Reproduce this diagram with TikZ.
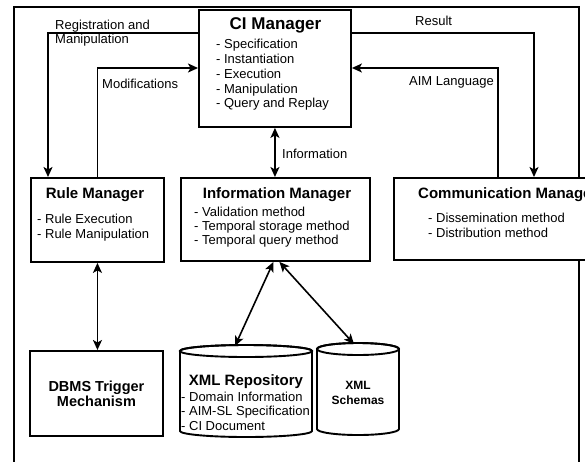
\documentclass[tikz,border=0pt]{standalone}
\usepackage{fontspec}
\setmainfont{Liberation Sans}
\usetikzlibrary{arrows.meta}
\begin{document}
\begin{tikzpicture}[x=1pt,y=-1pt,
  box/.style={draw, line width=1.9pt, fill=white, inner sep=0pt, anchor=north west},
  conn/.style={line width=1.6pt},
  arr/.style={-{Stealth[length=10pt,width=9pt,inset=2.5pt]}},
  darr/.style={{Stealth[length=10pt,width=9pt,inset=2.5pt]}-{Stealth[length=10pt,width=9pt,inset=2.5pt]}},
  txt/.style={inner sep=0pt, font=\fontsize{13}{14.75}\selectfont, align=left, anchor=north west},
  ttl/.style={inner sep=0pt, font=\fontsize{15}{17}\selectfont\bfseries, anchor=base},
  lbl/.style={inner sep=0pt, font=\fontsize{13}{14}\selectfont, align=left, anchor=north west},
  cyl/.style={draw, line width=1.9pt, fill=white}]

\useasboundingbox (0,0) rectangle (585,461);
\fill[white] (0,0) rectangle (585,461);
% outer frame
\draw[line width=2pt] (14,7) rectangle (579,480);

% boxes
\node[box, minimum width=152pt, minimum height=117pt] (ci) at (198,9) {};
\node[box, minimum width=133pt, minimum height=84pt] (rule) at (30,177) {};
\node[box, minimum width=189pt, minimum height=83pt] (info) at (180,177) {};
\node[box, minimum width=230pt, minimum height=82pt] (comm) at (393,177) {};
\node[box, minimum width=133pt, minimum height=85pt, align=center,
      font=\fontsize{14.5}{15}\selectfont\bfseries] (dbms) at (29,350) {DBMS Trigger\\Mechanism};

% cylinders
\path[cyl] (180,351) -- (180,431) arc[start angle=180, end angle=360, x radius=66pt, y radius=6pt]
  -- (312,351) arc[start angle=0, end angle=180, x radius=66pt, y radius=6pt] -- cycle;
\draw[line width=1.9pt] (246,351) ellipse[x radius=66pt, y radius=6pt];
\path[cyl] (317,349) -- (317,429) arc[start angle=180, end angle=360, x radius=41pt, y radius=6pt]
  -- (399,349) arc[start angle=0, end angle=180, x radius=41pt, y radius=6pt] -- cycle;
\draw[line width=1.9pt] (358,349) ellipse[x radius=41pt, y radius=6pt];
\coordinate (repotop) at (235,346);
\coordinate (schtop) at (354,344);

% titles
\node[ttl, font=\fontsize{17}{19}\selectfont\bfseries] (cititle) at (275.5,29.1) {CI Manager};
\node[ttl] (ruletitle) at (95,198.4) {Rule Manager};
\node[ttl] (infotitle) at (277,198.4) {Information Manager};
\node[ttl, anchor=base west] (commtitle) at (418,198.4) {Communication Manager};
\node[ttl] (repotitle) at (246,385.4) {XML Repository};
\node[inner sep=0pt, align=center, font=\fontsize{12}{15}\selectfont\bfseries] (schtext) at (358,392.5) {XML\\Schemas};

% item lists
\node[txt] (ciitems) at (216,39.2) {- Specification\\- Instantiation\\- Execution\\- Manipulation\\- Query and Replay};
\node[txt, font=\fontsize{13}{15}\selectfont] (ruleitems) at (37,214.2) {- Rule Execution\\- Rule Manipulation};
\node[txt, font=\fontsize{13}{14}\selectfont] (infoitems) at (194,207.2) {- Validation method\\- Temporal storage method\\- Temporal query method};
\node[txt, font=\fontsize{13}{15}\selectfont] (commitems) at (428,213.2) {- Dissemination method\\- Distribution method};
\node[txt, font=\fontsize{13}{14.5}\selectfont] (repoitems) at (181,391.8) {- Domain Information\\- AIM-SL Specification\\- CI Document};

% connectors
\draw[conn, arr] ([yshift=-24pt]ci.north west) -| ([xshift=18pt]rule.north west);
\draw[conn, arr] (rule.north) |- ([yshift=-59pt]ci.north west);
\draw[conn, arr] ([yshift=-24pt]ci.north east) -| ([xshift=141pt]comm.north west);
\draw[conn, arr] ([xshift=105pt]comm.north west) |- ([yshift=-59pt]ci.north east);
\draw[conn, darr] (ci.south) -- (ci.south |- info.north);
\draw[conn, darr] (rule.south) -- (rule.south |- dbms.north);
\draw[conn, darr] ([xshift=-2pt]info.south) -- (repotop);
\draw[conn, darr] ([xshift=4pt]info.south) -- (schtop);

% connector labels
\node[lbl] (reglbl) at (55,20.2) {Registration and\\Manipulation};
\node[lbl] (modlbl) at (102,79.2) {Modifications};
\node[lbl] (reslbl) at (415,16.2) {Result};
\node[lbl] (aimlbl) at (409,76.2) {AIM Language};
\node[lbl] (infolbl) at (282,148.7) {Information};
\end{tikzpicture}
\end{document}
